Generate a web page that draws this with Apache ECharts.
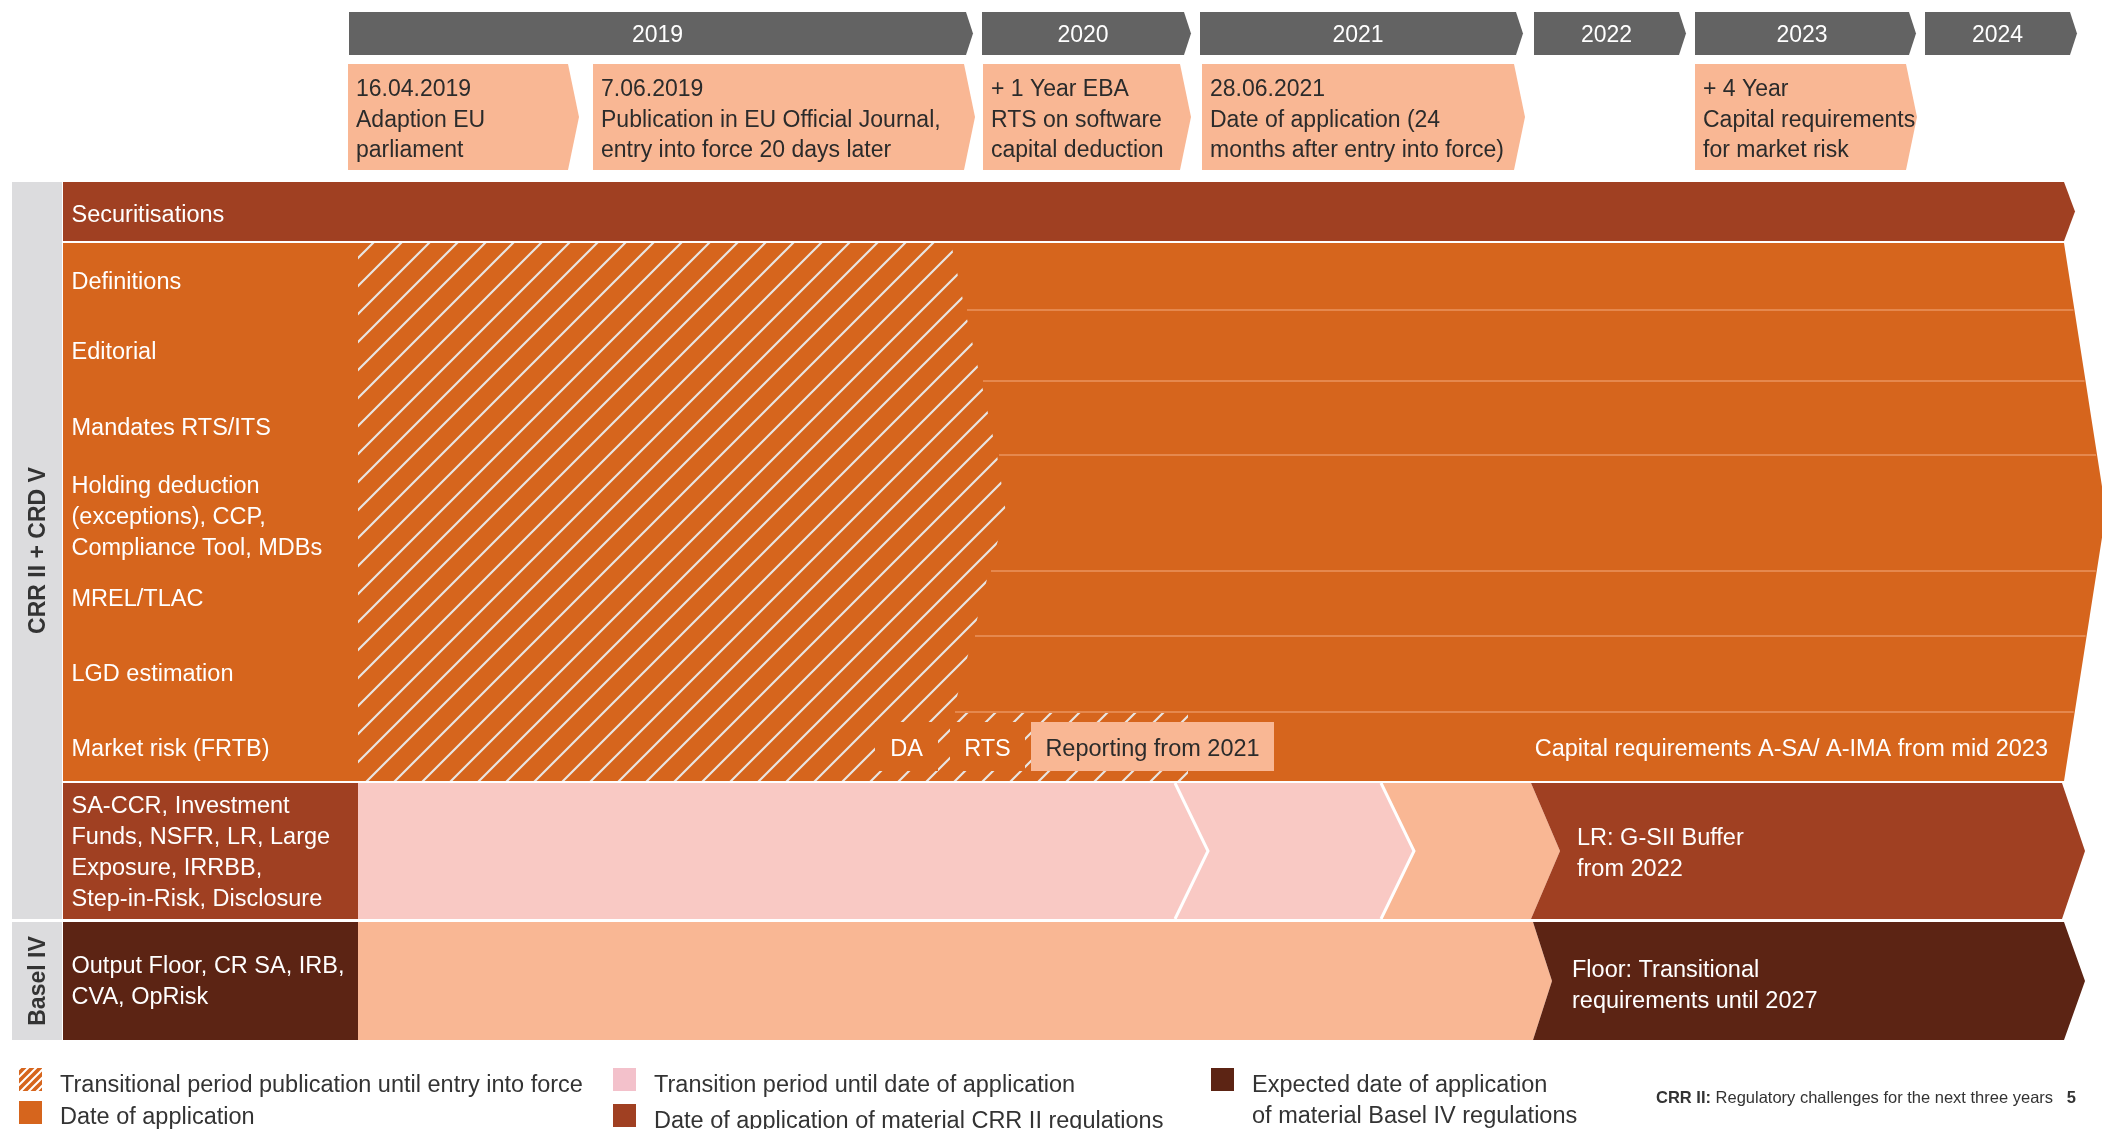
<!DOCTYPE html>
<html>
<head>
<meta charset="utf-8">
<script src="https://cdn.jsdelivr.net/npm/echarts@6/dist/echarts.min.js"></script>
<style>
html,body{margin:0;padding:0;background:#ffffff;}
#chart{width:2102px;height:1129px;}
</style>
</head>
<body>
<div id="chart"></div>
<script>
// ---------------- DATA (schematic timeline units; the source uses a non-linear calendar) ----------------
const years = ['2019', '2020', '2021', '2022', '2023', '2024'];
const yearStart = [349, 982, 1200, 1534, 1695, 1925];
const yearEnd = [966, 1184, 1516, 1679, 1909, 2070];

const milestoneText = [
  '16.04.2019\nAdaption EU\nparliament',
  '7.06.2019\nPublication in EU Official Journal,\nentry into force 20 days later',
  '+ 1 Year EBA\nRTS on software\ncapital deduction',
  '28.06.2021\nDate of application (24\nmonths after entry into force)',
  '+ 4 Year\nCapital requirements\nfor market risk'
];
const milestoneStart = [348, 593, 983, 1202, 1695];
const milestoneEnd = [568, 964, 1180, 1514, 1906];

const sections = ['CRR II + CRD V', 'Basel IV'];
const sectionTop = [182, 922];
const sectionBottom = [919, 1040];

const securitisationLabel = 'Securitisations';
const securitisationSpan = [182, 241];
const securitisationEnd = 2064;

const crrRows = [
  'Definitions',
  'Editorial',
  'Mandates RTS/ITS',
  'Holding deduction\n(exceptions), CCP,\nCompliance Tool, MDBs',
  'MREL/TLAC',
  'LGD estimation',
  'Market risk (FRTB)'
];
const crrRowBounds = [243, 310, 381, 455, 571, 636, 712, 781];
const crrLabelY = [280, 350, 426, 515, 597, 672, 747];
// end of the hatched "publication until entry into force" period in each row (at top edge, [peak,] bottom edge)
const entryIntoForce = [[951, 965], [965, 981], [981, 997], [997, 1006, 989], [989, 973], [973, 953], [1188, 1188]];
const crrEnd = 2064;

const marketPhases = ['DA', 'RTS', 'Reporting from 2021'];
const marketPhaseStart = [875, 950, 1031];
const marketPhaseEnd = [938, 1025, 1274];
const marketCapitalText = 'Capital requirements A-SA/ A-IMA from mid 2023';

const saccrLabel = 'SA-CCR, Investment\nFunds, NSFR, LR, Large\nExposure, IRRBB,\nStep-in-Risk, Disclosure';
const saccrPhaseEnd = [1175, 1381, 1531, 2062];
const saccrPhaseText = ['', '', '', 'LR: G-SII Buffer\nfrom 2022'];

const baselLabel = 'Output Floor, CR SA, IRB,\nCVA, OpRisk';
const baselPhaseEnd = [1533, 2064];
const baselPhaseText = ['', 'Floor: Transitional\nrequirements until 2027'];

const legendLabels = [
  'Transitional period publication until entry into force',
  'Date of application',
  'Transition period until date of application',
  'Date of application of material CRR II regulations',
  'Expected date of application\nof material Basel IV regulations'
];
const footerText = '{b|CRR II:} Regulatory challenges for the next three years   {b|5}';

// ---------------- STYLE / LAYOUT ----------------
const FONT = "'Liberation Sans', Arial, sans-serif";
const FS = 23.5;
const DY = 2.5;
const COL = {
  gray: '#636363', peach: '#F9B794', orange: '#D6651D', rust: '#A04022', brown: '#5C2414',
  pink: '#F9C9C4', legendPink: '#F3C1CB', band: '#DCDCDE', text: '#2B2B2B', sep: '#E5884E', hatch: '#E8E5E2'
};
const LABEL_X0 = 63, TL0 = 358, LABEL_TX = 71.5;
const saccrRow = [783, 919], baselRow = [922, 1040];
const saccrTipDepth = [33, 33, 29, 23];
const saccrColors = [COL.pink, COL.pink, COL.peach, COL.rust];
const baselTipDepth = [19, 21];
const baselColors = [COL.peach, COL.brown];

function makeHatch(P, lw, bg, fg) {
  const c = document.createElement('canvas');
  c.width = P; c.height = P;
  const g = c.getContext('2d');
  g.fillStyle = bg; g.fillRect(0, 0, P, P);
  g.strokeStyle = fg; g.lineWidth = lw;
  g.beginPath();
  g.moveTo(-P / 2, P / 2); g.lineTo(P / 2, -P / 2);
  g.moveTo(-1, P + 1); g.lineTo(P + 1, -1);
  g.moveTo(P / 2, 3 * P / 2); g.lineTo(3 * P / 2, P / 2);
  g.stroke();
  return c;
}
const hatchBig = { image: makeHatch(28, 2.2, COL.orange, COL.hatch), repeat: 'repeat' };
const hatchSmall = { image: makeHatch(8, 2, COL.orange, '#ffffff'), repeat: 'repeat' };

const pts = (api, arr) => arr.map(p => api.coord(p));
function poly(api, arr, fill, extra) {
  return Object.assign({ type: 'polygon', shape: { points: pts(api, arr) }, style: { fill: fill } }, extra || {});
}
function box(api, x0, x1, y0, y1, fill) {
  return poly(api, [[x0, y0], [x1, y0], [x1, y1], [x0, y1]], fill);
}
function txt(api, x, y, text, style, rotation) {
  const p = api.coord([x, y]);
  return {
    type: 'text', x: p[0] + (rotation ? DY : 0), y: p[1] + (rotation ? 0 : DY), rotation: rotation || 0,
    style: Object.assign({
      text: text, fill: '#ffffff', fontSize: FS, fontFamily: FONT,
      align: 'left', verticalAlign: 'middle', lineHeight: 31
    }, style || {})
  };
}
function crrEdgeX(y) {
  const top = crrRowBounds[0], bot = crrRowBounds[crrRowBounds.length - 1];
  const mid = (top + bot) / 2, half = (bot - top) / 2;
  return crrEnd + 42 * (1 - Math.abs(y - mid) / half);
}

const series = [];

// section bands
series.push({
  type: 'custom', z: 1, data: sections.map((s, i) => [sectionTop[i], sectionBottom[i]]),
  renderItem: (params, api) => {
    const i = params.dataIndex, t = sectionTop[i], b = sectionBottom[i];
    return { type: 'group', children: [
      box(api, 12, 62, t, b, COL.band),
      txt(api, 36.5, (t + b) / 2, sections[i], { fill: '#333333', fontWeight: 'bold', align: 'center', fontSize: 23 }, Math.PI / 2)
    ] };
  }
});

// securitisations
series.push({
  type: 'custom', z: 2, data: [[LABEL_X0, securitisationEnd]],
  renderItem: (params, api) => {
    const [t, b] = securitisationSpan, m = (t + b) / 2;
    return { type: 'group', children: [
      poly(api, [[LABEL_X0, t], [securitisationEnd, t], [securitisationEnd + 11, m], [securitisationEnd, b], [LABEL_X0, b]], COL.rust),
      txt(api, LABEL_TX, 213, securitisationLabel)
    ] };
  }
});

// CRR block with hatch
series.push({
  type: 'custom', z: 3, data: [[LABEL_X0, crrEnd]],
  renderItem: (params, api) => {
    const top = crrRowBounds[0], bot = crrRowBounds[crrRowBounds.length - 1], mid = (top + bot) / 2;
    const outline = [[LABEL_X0, top], [crrEnd, top], [crrEdgeX(mid), mid], [crrEnd, bot], [LABEL_X0, bot]];
    const hatch = [[TL0, top]];
    entryIntoForce.forEach((e, r) => {
      const t = crrRowBounds[r], b = crrRowBounds[r + 1];
      hatch.push([e[0], t]);
      if (e.length === 3) { hatch.push([e[1], (t + b) / 2]); hatch.push([e[2], b]); }
      else hatch.push([e[1], b]);
    });
    hatch.push([TL0, bot]);
    return { type: 'group', children: [poly(api, outline, COL.orange), poly(api, hatch, hatchBig)] };
  }
});

// CRR rows: separators + labels
series.push({
  type: 'custom', z: 4, data: crrRows.map((r, i) => [crrRowBounds[i], crrRowBounds[i + 1]]),
  renderItem: (params, api) => {
    const i = params.dataIndex, children = [];
    if (i > 0) {
      const y = crrRowBounds[i], x0 = entryIntoForce[i - 1][entryIntoForce[i - 1].length - 1];
      const a = api.coord([x0 + 2, y]), b = api.coord([crrEdgeX(y) - 1, y]);
      children.push({ type: 'line', shape: { x1: a[0], y1: a[1], x2: b[0], y2: b[1] }, style: { stroke: COL.sep, lineWidth: 2 } });
    }
    children.push(txt(api, LABEL_TX, crrLabelY[i], crrRows[i]));
    return { type: 'group', children: children };
  }
});

// market risk phases
series.push({
  type: 'custom', z: 5, data: marketPhases.map((m, i) => [marketPhaseStart[i], marketPhaseEnd[i]]),
  renderItem: (params, api) => {
    const i = params.dataIndex, s = marketPhaseStart[i], e = marketPhaseEnd[i];
    const last = i === marketPhases.length - 1;
    const children = [
      box(api, s, e, 722, 771, last ? COL.peach : COL.orange),
      txt(api, (s + e) / 2, 747, marketPhases[i], { align: 'center', fill: last ? COL.text : '#ffffff' })
    ];
    if (last) children.push(txt(api, 2048, 747, marketCapitalText, { align: 'right' }));
    return { type: 'group', children: children };
  }
});

// SA-CCR row
series.push({
  type: 'custom', z: 6, data: saccrPhaseEnd.map((e, i) => [i === 0 ? TL0 : saccrPhaseEnd[i - 1], e]),
  renderItem: (params, api) => {
    const i = params.dataIndex, [t, b] = saccrRow, m = (t + b) / 2;
    const s = i === 0 ? TL0 : saccrPhaseEnd[i - 1], e = saccrPhaseEnd[i];
    const shape = [[s, t], [e, t], [e + saccrTipDepth[i], m], [e, b], [s, b]];
    if (i > 0) shape.push([s + saccrTipDepth[i - 1], m]);
    const children = [];
    if (i === 0) {
      children.push(box(api, LABEL_X0, TL0, t, b, COL.rust));
      children.push(txt(api, LABEL_TX, 851, saccrLabel));
    }
    children.push(poly(api, shape, saccrColors[i]));
    if (i === 1 || i === 2) {
      const l = pts(api, [[s, t], [s + saccrTipDepth[i - 1], m], [s, b]]);
      children.push({ type: 'polyline', shape: { points: l }, style: { stroke: '#ffffff', lineWidth: 3, fill: null } });
    }
    if (saccrPhaseText[i]) children.push(txt(api, s + 46, 852, saccrPhaseText[i]));
    return { type: 'group', children: children };
  }
});

// Basel IV row
series.push({
  type: 'custom', z: 7, data: baselPhaseEnd.map((e, i) => [i === 0 ? TL0 : baselPhaseEnd[i - 1], e]),
  renderItem: (params, api) => {
    const i = params.dataIndex, [t, b] = baselRow, m = 981;
    const s = i === 0 ? TL0 : baselPhaseEnd[i - 1], e = baselPhaseEnd[i];
    const shape = [[s, t], [e, t], [e + baselTipDepth[i], m], [e, b], [s, b]];
    if (i > 0) shape.push([s + baselTipDepth[i - 1], m]);
    const children = [];
    if (i === 0) {
      children.push(box(api, LABEL_X0, TL0, t, b, COL.brown));
      children.push(txt(api, LABEL_TX, 980, baselLabel));
    }
    children.push(poly(api, shape, baselColors[i]));
    if (baselPhaseText[i]) children.push(txt(api, s + 39, 984, baselPhaseText[i]));
    return { type: 'group', children: children };
  }
});

// year header
series.push({
  type: 'custom', z: 8, data: years.map((y, i) => [yearStart[i], yearEnd[i]]),
  renderItem: (params, api) => {
    const i = params.dataIndex, s = yearStart[i], e = yearEnd[i];
    return { type: 'group', children: [
      poly(api, [[s, 12], [e, 12], [e + 7, 33.5], [e, 55], [s, 55]], COL.gray),
      txt(api, (s + e) / 2, 33.5, years[i], { align: 'center', fontSize: 23 })
    ] };
  }
});

// milestones
series.push({
  type: 'custom', z: 9, data: milestoneText.map((m, i) => [milestoneStart[i], milestoneEnd[i]]),
  renderItem: (params, api) => {
    const i = params.dataIndex, s = milestoneStart[i], e = milestoneEnd[i];
    return { type: 'group', children: [
      poly(api, [[s, 64], [e, 64], [e + 11, 117], [e, 170], [s, 170]], COL.peach),
      txt(api, s + 8, 118, milestoneText[i], { fill: COL.text, lineHeight: 30.5, fontSize: 23 })
    ] };
  }
});

// legend
const legendFill = [hatchSmall, COL.orange, COL.legendPink, COL.rust, COL.brown];
const legendIconX = [19, 19, 613, 613, 1211];
const legendIconY = [1068, 1101, 1068, 1104, 1068];
const legendTextY = [1083, 1115, 1083, 1119, 1099];
series.push({
  type: 'custom', z: 10, data: legendLabels.map((l, i) => [legendIconX[i], legendIconY[i]]),
  renderItem: (params, api) => {
    const i = params.dataIndex, x = legendIconX[i], y = legendIconY[i];
    return { type: 'group', children: [
      box(api, x, x + 23, y, y + 23, legendFill[i]),
      txt(api, x + 41, legendTextY[i], legendLabels[i], { fill: '#333333' })
    ] };
  }
});

// footer
series.push({
  type: 'custom', z: 11, data: [[2076, 1098]],
  renderItem: (params, api) => txt(api, 2076, 1096, footerText, {
    fill: '#333333', fontSize: 16.5, align: 'right', rich: { b: { fontWeight: 'bold', fontSize: 16.5, fontFamily: FONT, fill: '#333333' } }
  })
});

const chart = echarts.init(document.getElementById('chart'), null, { renderer: 'canvas' });
chart.setOption({
  animation: false,
  backgroundColor: '#ffffff',
  grid: { left: 0, right: 0, top: 0, bottom: 0 },
  xAxis: { type: 'value', min: 0, max: 2102, show: false },
  yAxis: { type: 'value', min: 0, max: 1129, inverse: true, show: false },
  series: series.map(s => Object.assign({ coordinateSystem: 'cartesian2d', silent: true, clip: false }, s))
});
</script>
</body>
</html>
